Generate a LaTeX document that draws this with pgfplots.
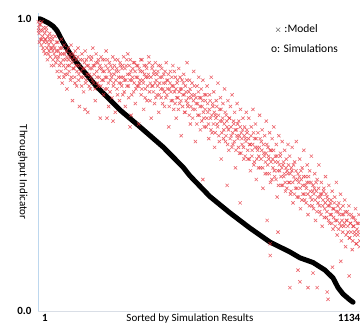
\documentclass[border=0pt]{standalone}
\usepackage{pgfplots}
\pgfplotsset{compat=1.18}
\usepackage{fontspec}
\setmainfont{Carlito}
\definecolor{simred}{RGB}{230,50,60}
\definecolor{yaxcol}{RGB}{189,215,238}
\definecolor{xaxcol}{RGB}{217,222,230}
\begin{document}
\begin{tikzpicture}
\begin{axis}[
  name=ax,
  scale only axis,
  width=322pt, height=298pt,
  xmin=1, xmax=1159, ymin=0, ymax=1.02,
  axis x line=bottom, axis y line=left,
  x axis line style={-, draw=xaxcol, line width=0.8pt},
  y axis line style={-, draw=yaxcol, line width=0.8pt},
  major tick length=0pt,
  xtick={26,1120}, xticklabels={\textbf{1},\textbf{1134}},
  ytick={0,1}, yticklabels={\textbf{0.0},\textbf{1.0}},
  xticklabel style={anchor=base, yshift=-10.5pt, font=\fontsize{11}{13}\selectfont},
  yticklabel style={xshift=-3pt, font=\fontsize{11}{13}\selectfont},
  xlabel={Sorted by Simulation Results},
  xlabel style={at={(axis description cs:0.472,0)}, anchor=base, yshift=-10.5pt, font=\fontsize{11}{13}\selectfont},
  ylabel={Throughput Indicator},
  ylabel style={at={(axis description cs:-0.047,0.466)}, rotate=180, anchor=center, font=\fontsize{11}{13}\selectfont},
]
\addplot[only marks, mark=x, mark size=2.3pt, draw=simred, mark options={line width=0.6pt, opacity=0.75}] coordinates {
(2,0.99)(4,0.97)(5,0.95)(7,0.98)(9,0.93)(11,0.96)(13,0.91)(15,0.99)(17,0.94)(19,0.90)(21,0.97)(23,0.92)(25,0.95)(27,0.88)(29,0.93)(31,0.96)(33,0.90)(35,0.86)(37,0.94)(39,0.91)(41,0.89)(43,0.95)(45,0.87)(47,0.92)(49,0.84)(51,0.90)(53,0.93)(55,0.86)(57,0.91)(59,0.88)
(62,0.94)(65,0.85)(67,0.89)(70,0.82)(72,0.92)(75,0.87)(77,0.80)(80,0.90)(83,0.85)(85,0.93)(88,0.78)(90,0.88)(93,0.84)(95,0.91)(98,0.81)(100,0.86)(103,0.89)(105,0.76)(108,0.84)(110,0.90)(113,0.82)(115,0.87)(118,0.79)(120,0.91)(123,0.85)(125,0.72)(128,0.88)(130,0.83)(133,0.80)(135,0.89)(138,0.86)(140,0.77)(143,0.84)(145,0.90)(148,0.81)(150,0.70)
(153,0.86)(156,0.80)(159,0.88)(162,0.83)(165,0.75)(168,0.85)(170,0.69)(171,0.89)(174,0.79)(177,0.84)(180,0.68)(183,0.87)(186,0.81)(189,0.76)(192,0.86)(195,0.83)(198,0.90)(201,0.78)(204,0.84)(207,0.72)(210,0.88)(213,0.80)(216,0.85)(219,0.77)(222,0.83)(225,0.66)(228,0.87)(231,0.79)(234,0.82)(237,0.74)(240,0.86)(243,0.80)(246,0.89)(249,0.66)(249,0.76)(252,0.83)(255,0.70)(258,0.85)(261,0.79)(264,0.81)(267,0.73)(270,0.87)(271,0.65)(273,0.78)(276,0.84)(279,0.68)(282,0.82)(285,0.76)(288,0.86)(291,0.80)(294,0.72)(297,0.84)(300,0.78)
(303,0.83)(306,0.74)(309,0.87)(312,0.79)(315,0.70)(318,0.84)(321,0.77)(324,0.88)(327,0.73)(330,0.81)(332,0.63)(333,0.86)(336,0.67)(339,0.79)(342,0.83)(345,0.75)(348,0.85)(351,0.71)(354,0.80)(357,0.77)(360,0.84)(363,0.64)(366,0.78)(369,0.82)(372,0.74)(375,0.86)(378,0.79)(381,0.69)(384,0.81)(387,0.76)(390,0.84)(393,0.72)(396,0.80)(399,0.87)(402,0.75)(405,0.78)(408,0.66)(411,0.83)(414,0.77)(417,0.81)(420,0.71)(423,0.85)(426,0.79)(429,0.74)(432,0.82)(435,0.68)(438,0.78)(441,0.84)(444,0.73)(447,0.80)(450,0.76)
(453,0.81)(456,0.70)(459,0.78)(462,0.85)(465,0.74)(468,0.79)(471,0.63)(474,0.76)(477,0.82)(480,0.72)(483,0.77)(486,0.84)(489,0.69)(492,0.75)(495,0.80)(498,0.66)(501,0.78)(504,0.73)(507,0.83)(510,0.71)(513,0.76)(516,0.60)(519,0.79)(522,0.74)(525,0.81)(528,0.68)(531,0.77)(534,0.72)(537,0.85)(540,0.70)(543,0.75)(546,0.79)(549,0.64)(552,0.73)(555,0.78)(558,0.69)(561,0.82)(564,0.74)(567,0.58)(570,0.71)(573,0.77)(576,0.67)(579,0.80)(582,0.73)(585,0.62)(588,0.76)(591,0.70)(594,0.79)(594,0.45)(597,0.66)(600,0.74)
(603,0.72)(606,0.63)(609,0.77)(612,0.68)(615,0.59)(618,0.74)(621,0.66)(624,0.80)(627,0.61)(630,0.70)(633,0.75)(636,0.56)(639,0.67)(642,0.72)(645,0.64)(648,0.78)(651,0.60)(654,0.69)(657,0.73)(660,0.52)(663,0.65)(666,0.71)(669,0.62)(672,0.76)(675,0.58)(678,0.67)(681,0.63)(681,0.43)(684,0.72)(687,0.55)(690,0.66)(693,0.70)(696,0.60)(699,0.74)(702,0.57)(705,0.64)(708,0.68)(711,0.49)(714,0.62)(717,0.71)(720,0.59)(723,0.65)(726,0.54)(728,0.37)(729,0.69)(732,0.61)(735,0.57)(738,0.66)(741,0.52)(744,0.63)(747,0.59)(750,0.68)
(753,0.61)(756,0.52)(759,0.66)(762,0.57)(765,0.48)(768,0.63)(771,0.55)(774,0.69)(777,0.50)(780,0.59)(783,0.64)(786,0.45)(789,0.56)(792,0.61)(795,0.53)(798,0.67)(801,0.49)(804,0.58)(807,0.62)(810,0.42)(813,0.54)(816,0.60)(819,0.51)(822,0.65)(825,0.47)(825,0.31)(828,0.56)(831,0.52)(834,0.61)(836,0.23)(836,0.19)(837,0.44)(840,0.55)(843,0.59)(846,0.49)(849,0.63)(852,0.46)(855,0.53)(858,0.57)(861,0.39)(864,0.51)(864,0.27)(867,0.60)(870,0.48)(873,0.54)(876,0.43)(879,0.58)(882,0.50)(885,0.46)(888,0.55)(891,0.41)(894,0.52)(897,0.48)(900,0.57)
(903,0.44)(906,0.53)(907,0.08)(909,0.40)(912,0.49)(915,0.56)(918,0.37)(921,0.46)(924,0.51)(927,0.42)(930,0.58)(933,0.39)(936,0.47)(936,0.14)(939,0.44)(942,0.52)(943,0.10)(945,0.35)(948,0.45)(951,0.49)(954,0.40)(957,0.55)(960,0.38)(963,0.46)(966,0.42)(969,0.50)(972,0.33)(972,0.08)(975,0.44)(978,0.48)(981,0.39)(984,0.53)(987,0.36)(990,0.43)(990,0.13)(993,0.40)(996,0.47)(999,0.31)(1002,0.41)(1005,0.45)(1005,0.08)(1008,0.37)(1011,0.50)(1014,0.34)(1017,0.40)(1020,0.44)(1023,0.29)(1026,0.38)(1029,0.42)(1032,0.35)(1035,0.46)(1038,0.32)(1041,0.39)(1041,0.065)(1044,0.36)(1044,0.04)(1047,0.43)(1050,0.30)
(1053,0.37)(1056,0.33)(1059,0.41)(1060,0.15)(1062,0.28)(1065,0.35)(1068,0.39)(1071,0.31)(1074,0.44)(1077,0.26)(1080,0.34)(1083,0.37)(1086,0.30)(1089,0.40)(1090,0.17)(1092,0.24)(1095,0.33)(1098,0.36)(1101,0.29)(1104,0.38)(1107,0.22)(1110,0.31)(1113,0.34)(1116,0.27)(1119,0.36)(1120,0.12)(1122,0.25)(1125,0.30)(1128,0.33)(1131,0.21)(1134,0.29)(1137,0.32)(1140,0.26)(1143,0.35)(1146,0.23)(1149,0.30)(1152,0.27)(1155,0.33)(1158,0.24)
(3,0.96)(6,0.92)(10,0.98)(14,0.93)(18,0.96)(22,0.89)(26,0.93)(30,0.97)(34,0.92)(38,0.88)(42,0.93)(46,0.90)(50,0.94)(54,0.89)(58,0.84)(61,0.90)(64,0.87)(68,0.92)(71,0.86)(74,0.89)(78,0.84)(81,0.88)(84,0.82)(87,0.90)(91,0.86)(94,0.80)(97,0.88)(101,0.83)(104,0.87)(107,0.81)(111,0.86)(114,0.84)(117,0.88)(121,0.80)(124,0.86)(127,0.83)(131,0.87)(134,0.78)(137,0.84)(141,0.82)(144,0.87)(147,0.79)
(151,0.84)(155,0.82)(158,0.77)(161,0.86)(164,0.80)(167,0.83)(172,0.78)(175,0.86)(178,0.81)(182,0.84)(185,0.77)(188,0.83)(191,0.80)(194,0.87)(197,0.79)(200,0.84)(203,0.81)(206,0.76)(209,0.85)(212,0.82)(215,0.78)(218,0.86)(221,0.80)(224,0.84)(227,0.77)(230,0.83)(233,0.86)(236,0.79)(239,0.82)(242,0.76)(245,0.84)(248,0.80)(251,0.86)(254,0.78)(257,0.82)(260,0.75)(263,0.84)(266,0.80)(269,0.83)(272,0.77)(275,0.81)(278,0.86)(281,0.79)(284,0.83)(287,0.74)(290,0.82)(293,0.78)(296,0.85)(299,0.80)
(302,0.77)(305,0.84)(308,0.80)(311,0.75)(314,0.83)(317,0.79)(320,0.86)(323,0.81)(326,0.77)(329,0.84)(332,0.79)(335,0.82)(338,0.74)(341,0.80)(344,0.85)(347,0.78)(350,0.82)(353,0.76)(356,0.84)(359,0.80)(362,0.77)(365,0.83)(368,0.79)(371,0.86)(374,0.76)(377,0.82)(380,0.78)(383,0.84)(386,0.73)(389,0.80)(392,0.83)(395,0.77)(398,0.81)(401,0.85)(404,0.72)(407,0.80)(410,0.77)(413,0.84)(416,0.75)(419,0.82)(422,0.78)(425,0.73)(428,0.81)(431,0.77)(434,0.84)(437,0.74)(440,0.80)(443,0.76)(446,0.83)(449,0.71)
(452,0.78)(455,0.75)(458,0.82)(461,0.73)(464,0.79)(467,0.76)(470,0.81)(473,0.70)(476,0.78)(479,0.75)(482,0.80)(485,0.72)(488,0.77)(491,0.82)(494,0.71)(497,0.76)(500,0.73)(503,0.79)(506,0.69)(509,0.75)(512,0.80)(515,0.72)(518,0.76)(521,0.70)(524,0.78)(527,0.74)(530,0.68)(533,0.75)(536,0.79)(539,0.71)(542,0.73)(545,0.67)(548,0.76)(551,0.70)(554,0.74)(557,0.66)(560,0.72)(563,0.77)(566,0.69)(569,0.73)(572,0.64)(575,0.71)(578,0.75)(581,0.67)(584,0.70)(587,0.73)(590,0.65)(593,0.72)(596,0.68)(599,0.63)
(602,0.69)(605,0.74)(608,0.66)(611,0.71)(614,0.64)(617,0.69)(620,0.72)(623,0.62)(626,0.67)(629,0.71)(632,0.64)(635,0.68)(638,0.61)(641,0.66)(644,0.70)(647,0.63)(650,0.67)(653,0.58)(656,0.65)(659,0.69)(662,0.61)(665,0.66)(668,0.59)(671,0.64)(674,0.68)(677,0.60)(680,0.65)(683,0.57)(686,0.62)(689,0.66)(692,0.59)(695,0.63)(698,0.56)(701,0.61)(704,0.65)(707,0.58)(710,0.62)(713,0.55)(716,0.60)(719,0.64)(722,0.56)(725,0.60)(728,0.63)(731,0.54)(734,0.59)(737,0.62)(740,0.56)(743,0.60)(746,0.53)(749,0.58)
(752,0.62)(755,0.55)(758,0.59)(761,0.52)(764,0.57)(767,0.60)(770,0.53)(773,0.57)(776,0.61)(779,0.51)(782,0.56)(785,0.59)(788,0.52)(791,0.55)(794,0.49)(797,0.56)(800,0.59)(803,0.52)(806,0.55)(809,0.49)(812,0.57)(815,0.53)(818,0.47)(821,0.54)(824,0.57)(827,0.50)(830,0.53)(833,0.47)(836,0.55)(839,0.51)(842,0.45)(845,0.52)(848,0.55)(851,0.48)(854,0.51)(857,0.45)(860,0.53)(863,0.48)(866,0.43)(869,0.50)(872,0.53)(875,0.46)(878,0.49)(881,0.43)(884,0.51)(887,0.47)(890,0.44)(893,0.49)(896,0.42)(899,0.47)
(902,0.50)(905,0.44)(908,0.47)(911,0.41)(914,0.48)(917,0.44)(920,0.50)(923,0.40)(926,0.45)(929,0.48)(932,0.42)(935,0.45)(938,0.39)(941,0.46)(944,0.42)(947,0.48)(950,0.38)(953,0.43)(956,0.46)(959,0.40)(962,0.43)(965,0.37)(968,0.44)(971,0.40)(974,0.46)(977,0.36)(980,0.41)(983,0.44)(986,0.38)(989,0.41)(992,0.35)(995,0.42)(998,0.38)(1001,0.44)(1004,0.34)(1007,0.39)(1010,0.42)(1013,0.36)(1016,0.39)(1019,0.33)(1022,0.40)(1025,0.36)(1028,0.41)(1031,0.32)(1034,0.37)(1037,0.40)(1040,0.34)(1043,0.38)(1046,0.31)(1049,0.36)
(1052,0.33)(1055,0.38)(1058,0.30)(1061,0.35)(1064,0.32)(1067,0.37)(1070,0.29)(1073,0.34)(1076,0.31)(1079,0.36)(1082,0.28)(1085,0.33)(1088,0.35)(1091,0.29)(1094,0.31)(1097,0.27)(1100,0.33)(1103,0.30)(1106,0.34)(1109,0.26)(1112,0.31)(1115,0.29)(1118,0.33)(1121,0.25)(1124,0.30)(1127,0.27)(1130,0.32)(1133,0.24)(1136,0.29)(1139,0.27)(1142,0.31)(1145,0.23)(1148,0.28)(1151,0.26)(1154,0.30)(1157,0.22)
};
\addplot[black, line width=5pt, line join=round, line cap=round] coordinates {
(1,1.000)(8,1.000)(20,0.995)(40,0.985)(55,0.975)(69,0.960)(91,0.920)(120,0.875)(152,0.836)(213,0.767)(296,0.688)(368,0.630)(450,0.562)(522,0.493)(548,0.462)(619,0.392)(691,0.336)(763,0.284)(835,0.236)(907,0.202)(943,0.182)(990,0.166)(1033,0.140)(1062,0.113)(1080,0.080)(1098,0.058)(1120,0.040)(1134,0.030)
};
\node[anchor=east, font=\fontsize{11.5}{13}\selectfont, inner sep=0pt] at (axis cs:1008,0.966) {{\fontsize{9}{9}\selectfont$\times$} :Model};
\node[anchor=east, font=\fontsize{11.5}{13}\selectfont, inner sep=0pt] at (axis cs:1080,0.900) {o: Simulations};
\end{axis}
\pgfresetboundingbox
\useasboundingbox ([xshift=-38pt,yshift=-14pt]ax.south west) rectangle ([yshift=13pt]ax.north east);
\end{tikzpicture}
\end{document}
